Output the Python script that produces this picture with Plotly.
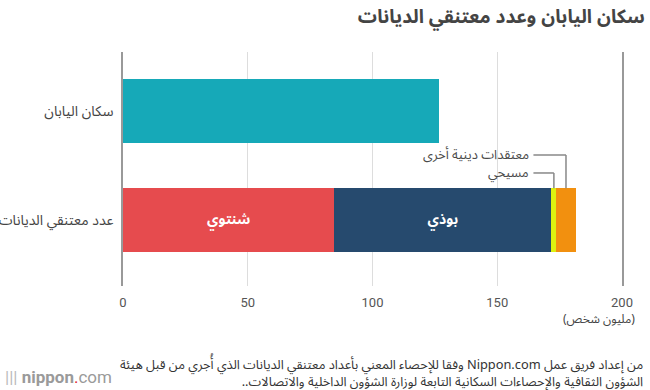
import plotly.graph_objects as go

# ---- data ----
categories = ["عدد معتنقي الديانات", "سكان اليابان"]
population = 126.6
religion_names = ["شنتوي", "بوذي", "مسيحي", "معتقدات دينية أخرى"]
religion_values = [84.7, 87.0, 2.0, 7.7]
religion_colors = ["#E64B4E", "#264A6E", "#DDF210", "#F2900F"]
inside_labels = ["شنتوي", "بوذي", "", ""]
x_ticks = [0, 50, 100, 150, 200]

title = "سكان اليابان وعدد معتنقي الديانات"
unit_label = "(مليون شخص)"
source_lines = [
    "من إعداد فريق عمل Nippon.com وفقا للإحصاء المعني بأعداد معتنقي الديانات الذي أُجري من قبل هيئة",
    "الشؤون الثقافية والإحصاءات السكانية التابعة لوزارة الشؤون الداخلية والاتصالات..",
]

AR = "Noto Sans Arabic, Noto Sans, DejaVu Sans, sans-serif"
BAR_W = 0.58
RLE, PDF = "\u202B", "\u202C"

fig = go.Figure()
fig.add_trace(go.Bar(
    y=[categories[1]], x=[population], orientation="h",
    marker=dict(color="#16A9B8", line=dict(width=0)), width=BAR_W,
    showlegend=False, hoverinfo="x",
))
for name, val, col, lab in zip(religion_names, religion_values, religion_colors, inside_labels):
    fig.add_trace(go.Bar(
        y=[categories[0]], x=[val], orientation="h", name=name,
        marker=dict(color=col, line=dict(width=0)), width=BAR_W,
        text=[f"<b>{lab}</b>" if lab else ""], textposition="inside", insidetextanchor="middle",
        textfont=dict(color="white", size=14, family=AR),
        showlegend=False, hoverinfo="x+name",
    ))

# leader lines for small segments
cum = sum(religion_values[:2])
mid_christian = cum + religion_values[2] / 2
mid_other = cum + religion_values[2] + religion_values[3] / 2
bar_top = BAR_W / 2
label_x = 164.5
line_col = "#888888"
for mid, ly, txt in [(mid_other, 0.596, religion_names[3]), (mid_christian, 0.431, religion_names[2])]:
    fig.add_shape(type="line", x0=label_x, x1=mid, y0=ly, y1=ly, xref="x", yref="y",
                  line=dict(color=line_col, width=1.5))
    fig.add_shape(type="line", x0=mid, x1=mid, y0=ly, y1=bar_top, xref="x", yref="y",
                  line=dict(color=line_col, width=1.5))
    fig.add_annotation(x=label_x - 0.8, y=ly, xref="x", yref="y", text=txt, showarrow=False,
                       xanchor="right", yanchor="middle",
                       font=dict(size=13, color="#4a4a4a", family=AR))

fig.add_annotation(x=1.030, y=-0.142, xref="paper", yref="paper", text=unit_label,
                   showarrow=False, xanchor="right", yanchor="middle",
                   font=dict(size=12, color="#444444", family=AR))
fig.add_annotation(x=1.046, y=-0.370, xref="paper", yref="paper",
                   text="<br>".join(RLE + s + PDF for s in source_lines),
                   showarrow=False, xanchor="right", yanchor="middle", align="right",
                   font=dict(size=12.8, color="#333333", family=AR))
fig.add_annotation(x=-0.241, y=-0.389, xref="paper", yref="paper",
                   text="<span style='color:#bbbbbb'>|||</span> <b>nippon</b><span style='color:#E0232E'>.</span>com",
                   showarrow=False, xanchor="left", yanchor="middle",
                   font=dict(size=17, color="#9a9a9a", family="Roboto, Liberation Sans, sans-serif"))

fig.update_layout(
    width=650, height=390,
    margin=dict(l=122.5, r=28, t=52, b=104, autoexpand=False),
    barmode="stack",
    plot_bgcolor="white", paper_bgcolor="white",
    title=dict(text=f"<b>{title}</b>", x=0.992, xanchor="right", xref="container",
               y=0.958, yanchor="middle", yref="container",
               font=dict(size=19, color="#444444", family=AR)),
    xaxis=dict(range=[0, 200], tickvals=x_ticks, showgrid=True, gridcolor="#DDDDDD", gridwidth=1,
               zeroline=False, showline=False, ticks="", ticklabelstandoff=7, automargin=False,
               tickfont=dict(size=13, color="#555555", family="Roboto, Liberation Sans, sans-serif")),
    yaxis=dict(categoryorder="array", categoryarray=categories, range=[-0.606, 1.541],
               showgrid=False, zeroline=False, showline=True, mirror=True, automargin=False,
               linecolor="#999999", linewidth=1.5, ticks="", ticklabelstandoff=5,
               tickfont=dict(size=14, color="#444444", family=AR)),
)

fig.write_html("out.html", config={"displayModeBar": False},
               post_script="document.body.style.margin='0';document.body.style.padding='0';")
